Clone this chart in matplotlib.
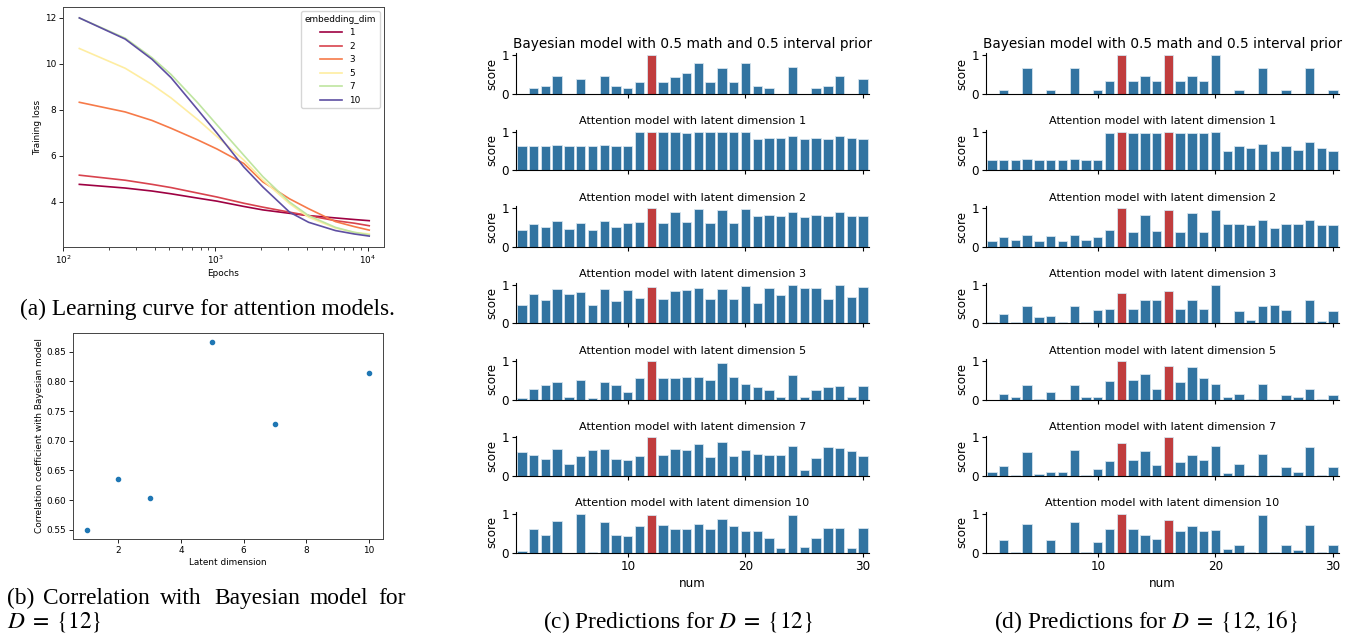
import numpy as np
import matplotlib.pyplot as plt

plt.rcParams['mathtext.fontset'] = 'stix'

# ---- (a) learning curves ----
epochs = [128, 256, 384, 512, 768, 1024, 1536, 2048, 3072, 4096, 6144, 8192, 10240]
embedding_dims = [1, 2, 3, 5, 7, 10]
loss_dim1 = [4.76, 4.60, 4.47, 4.35, 4.16, 4.03, 3.80, 3.65, 3.50, 3.40, 3.30, 3.23, 3.18]
loss_dim2 = [5.16, 4.94, 4.76, 4.62, 4.38, 4.21, 3.94, 3.77, 3.55, 3.40, 3.18, 3.07, 2.96]
loss_dim3 = [8.33, 7.91, 7.54, 7.20, 6.69, 6.30, 5.67, 4.87, 4.13, 3.70, 3.14, 2.92, 2.77]
loss_dim5 = [10.67, 9.81, 9.10, 8.52, 7.57, 6.84, 5.82, 4.95, 3.92, 3.33, 2.86, 2.67, 2.60]
loss_dim7 = [12.0, 11.12, 10.27, 9.54, 8.30, 7.35, 6.03, 5.10, 3.99, 3.40, 2.89, 2.67, 2.56]
loss_dim10 = [12.0, 11.08, 10.20, 9.40, 8.00, 6.99, 5.52, 4.65, 3.55, 3.11, 2.75, 2.60, 2.51]
losses = [loss_dim1, loss_dim2, loss_dim3, loss_dim5, loss_dim7, loss_dim10]

# ---- (b) correlation ----
latent_dims = [1, 2, 3, 5, 7, 10]
correlation = [0.550, 0.635, 0.604, 0.866, 0.729, 0.814]

# ---- (c), (d) predictions ----
nums = list(range(1, 31))
row_titles = ["Bayesian model with 0.5 math and 0.5 interval prior",
              "Attention model with latent dimension 1",
              "Attention model with latent dimension 2",
              "Attention model with latent dimension 3",
              "Attention model with latent dimension 5",
              "Attention model with latent dimension 7",
              "Attention model with latent dimension 10"]

highlight_c = [12]
scores_c = [
    [0, .145, .2, .46, 0, .38, 0, .46, .2, .145, .3, 1.0, .3, .44, .53, .79, .3, .68, .3, .79,
     .2, .145, 0, .69, 0, .145, .2, .46, 0, .38],
    [.64, .64, .64, .66, .64, .64, .64, .66, .64, .64, 1.0, 1.0, 1.0, 1.0, .97, 1.0, 1.0, 1.0, 1.0, 1.0,
     .81, .85, .83, .89, .81, .85, .81, .89, .84, .81],
    [.44, .60, .52, .67, .46, .62, .44, .67, .52, .62, .64, 1.0, .62, .90, .64, .97, .62, .94, .62, .97,
     .81, .83, .81, .90, .77, .83, .81, .90, .81, .81],
    [.48, .77, .61, .88, .75, .81, .48, .88, .57, .86, .65, .94, .64, .84, .86, .92, .64, .88, .64, .97,
     .53, .92, .73, .98, .90, .92, .64, 1.0, .67, .94],
    [.04, .29, .38, .45, .07, .52, .04, .45, .38, .19, .55, 1.0, .57, .55, .59, .60, .52, .96, .59, .40,
     .32, .24, .07, .63, .07, .24, .32, .36, .07, .36],
    [.63, .56, .44, .70, .31, .52, .67, .70, .44, .42, .52, 1.0, .54, .70, .67, .83, .50, .88, .52, .69,
     .58, .54, .54, .79, .15, .46, .75, .73, .64, .52],
    [.04, .61, .46, .82, 0, 1.0, .03, .79, .46, .42, .69, .98, .72, .61, .62, .74, .61, .88, .68, .55,
     .56, .39, .13, .97, .15, .38, .65, .65, .13, .63],
]

highlight_d = [12, 16]
scores_d = [
    [0, .1, 0, .66, 0, .1, 0, .66, 0, .1, .34, 1.0, .34, .47, .34, 1.0, .34, .47, .34, 1.0,
     0, .1, 0, .66, 0, .1, 0, .66, 0, .1],
    [.26, .28, .26, .30, .26, .26, .26, .30, .26, .26, .97, 1.0, .97, .97, .96, 1.0, .97, .97, .97, 1.0,
     .51, .62, .58, .68, .51, .62, .54, .73, .58, .51],
    [.14, .26, .19, .31, .14, .29, .14, .31, .19, .26, .43, 1.0, .39, .83, .42, .95, .39, .87, .39, .95,
     .58, .60, .57, .69, .50, .58, .58, .69, .57, .57],
    [.03, .23, .03, .44, .17, .19, .03, .44, .03, .34, .36, .79, .38, .61, .61, .84, .38, .61, .38, 1.0,
     0, .31, .08, .44, .48, .34, .03, .61, .05, .31],
    [0, .15, .08, .38, .03, .21, 0, .38, .08, .08, .49, 1.0, .50, .67, .29, .88, .46, .84, .55, .42,
     .08, .15, .03, .40, 0, .13, .08, .29, .03, .13],
    [.10, .27, .02, .63, .06, .10, .10, .69, .02, .19, .40, .86, .42, .64, .29, 1.0, .37, .54, .42, .77,
     .08, .31, .02, .58, .02, .23, .10, .75, .04, .23],
    [0, .32, .03, .75, 0, .33, 0, .78, .03, .27, .62, 1.0, .61, .46, .36, .85, .55, .69, .56, .59,
     .09, .19, .03, .98, .03, .19, .06, .71, .03, .20],
]

W, H = 1351, 636
fig = plt.figure(figsize=(W / 100, H / 100), dpi=100)


def px_axes(left, top, right, bottom):
    return fig.add_axes([left / W, 1 - bottom / H, (right - left) / W, (bottom - top) / H])


# (a) learning curve
ax = px_axes(63, 7, 384, 247)
for d, l in zip(embedding_dims, losses):
    ax.plot(epochs, l, color=plt.cm.Spectral((d - 1) / 9), lw=1.2, label=str(d))
ax.set_xscale('log')
ax.set_xlim(100, 12800)
ax.set_xlabel('Epochs', fontsize=6.4, labelpad=2)
ax.set_ylabel('Training loss', fontsize=6.4, labelpad=2)
ax.tick_params(labelsize=6.4, width=0.6, length=3, pad=2)
ax.tick_params(which='minor', width=0.5, length=2)
for s in ax.spines.values():
    s.set_linewidth(0.7)
    s.set_color('#444444')
ax.legend(title='embedding_dim', fontsize=6.4, title_fontsize=6.4, loc='upper right',
          handlelength=2.5)

# (b) correlation scatter
ax = px_axes(73, 333, 383, 539)
ax.scatter(latent_dims, correlation, s=9, color='#1f77b4')
ax.set_xlabel('Latent dimension', fontsize=6.4, labelpad=2)
ax.set_ylabel('Correlation coefficient with Bayesian model', fontsize=6.4, labelpad=2)
ax.tick_params(labelsize=6.4, width=0.6, length=3, pad=2)
for s in ax.spines.values():
    s.set_linewidth(0.7)
    s.set_color('#444444')

# (c), (d) bar panels
blue = '#3274a1'
red = '#c03d3e'
for x0, scores, hl in [(516, scores_c, highlight_c), (986, scores_d, highlight_d)]:
    for i, (title, vals) in enumerate(zip(row_titles, scores)):
        top = 53.3 + 76.45 * i
        ax = px_axes(x0, top, x0 + 353, top + 40.7)
        colors = [red if n in hl else blue for n in nums]
        ax.bar(nums, vals, width=0.8, color=colors, edgecolor='#d6e4ee', linewidth=0.6)
        ax.set_xlim(0.5, 30.5)
        ax.set_ylim(0, 1.05)
        ax.set_yticks([0, 1])
        ax.set_xticks([10, 20, 30])
        ax.set_ylabel('score', fontsize=8.6, labelpad=2)
        ax.tick_params(labelsize=8.6, width=0.8, length=3, pad=2)
        ax.spines['top'].set_visible(False)
        ax.spines['right'].set_visible(False)
        ax.set_title(title, fontsize=9.8 if i == 0 else 8.1, pad=4)
        if i == len(scores) - 1:
            ax.set_xlabel('num', fontsize=8.6, labelpad=3)
        else:
            ax.set_xticklabels([])

# captions
cap = dict(fontsize=16.8, family='Liberation Serif')
fig.text(207 / W, 1 - 309 / H, '(a) Learning curve for attention models.', ha='center',
         va='center', **cap)
for word, xp in [('(b)', 7), ('Correlation', 43), ('with', 160), ('Bayesian', 214),
                 ('model', 309), ('for', 378)]:
    fig.text(xp / W, 1 - 604 / H, word, ha='left', va='baseline', **cap)
fig.text(7 / W, 1 - 622 / H, r'$D\;=\;\{12\}$', ha='left', va='center', **cap)
fig.text(678 / W, 1 - 622 / H, r'(c) Predictions for $D\;=\;\{12\}$', ha='center',
         va='center', **cap)
fig.text(1146 / W, 1 - 622 / H, r'(d) Predictions for $D\;=\;\{12,16\}$', ha='center',
         va='center', **cap)

fig.savefig('out.png', dpi=100)
